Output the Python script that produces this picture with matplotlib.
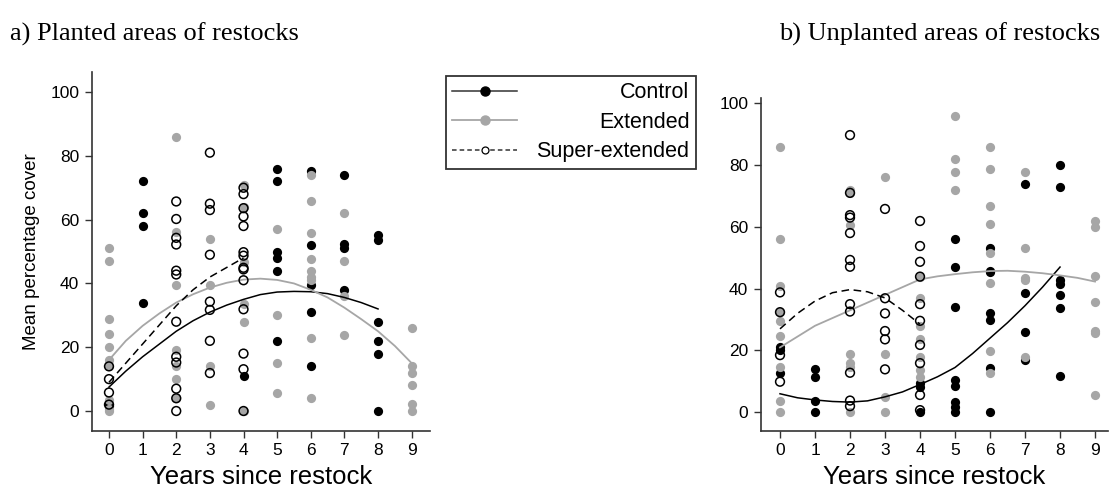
import matplotlib.pyplot as plt
from matplotlib.lines import Line2D

plt.rcParams['font.family'] = ['Liberation Sans', 'DejaVu Sans']

years = list(range(10))
year_ticks = [0, 1, 2, 3, 4, 5, 6, 7, 8, 9]
cover_ticks = [0, 20, 40, 60, 80, 100]

# ---- a) planted areas: raw percentage cover per year (index = year) ----
planted_control = [[2.2, 1.5], [72, 62, 58, 34], [], [], [11],
                   [76, 72, 50, 48, 44, 22], [75.4, 52.2, 39.4, 31, 14],
                   [74, 52.4, 51, 38], [55.3, 53.7, 28, 22, 18, 0], []]
planted_extended = [[51, 47, 29, 24, 20, 16, 14, 3.5, 0.5, 0], [],
                    [86, 56, 39.4, 19, 14, 10, 4], [54, 39.4, 14.2, 2],
                    [71, 64, 46.7, 33.4, 28, 0], [57.2, 30, 15, 5.8],
                    [73.9, 66, 55.8, 47.8, 44, 42, 41, 23, 4],
                    [62, 47, 36, 23.8], [], [26, 14.2, 12, 8.1, 2.2, 0]]
planted_super = [[14, 10, 5.8, 2], [],
                 [65.7, 60.2, 54.3, 52.2, 44, 42.8, 28, 17, 15.2, 7, 4, 0],
                 [81, 65, 63, 49, 34.3, 31.7, 22, 11.9],
                 [70, 68, 63.6, 61, 58, 49.8, 48.7, 44.9, 44.4, 41, 31.9, 18, 13.1, 0],
                 [], [], [], [], []]

# fitted curves (read every half year)
planted_control_fit_x = [0, 0.5, 1, 1.5, 2, 2.5, 3, 3.5, 4, 4.5, 5, 5.5, 6, 6.5, 7, 7.5, 8]
planted_control_fit = [7.5, 12.5, 17, 21, 25, 28.3, 31, 33.2, 35, 36.5, 37.3, 37.5, 37.4, 36.8, 35.6, 34, 32]
planted_extended_fit_x = [0, 0.5, 1, 1.5, 2, 2.5, 3, 3.5, 4, 4.5, 5, 5.5, 6, 6.5, 7, 7.5, 8, 8.5, 9]
planted_extended_fit = [16, 22, 26.7, 30.6, 34, 36.6, 38.7, 40.2, 41.2, 41.5, 41.1, 40, 38, 35.6, 32.4, 28.8, 25, 20.4, 15]
planted_super_fit_x = [0, 0.5, 1, 1.5, 2, 2.5, 3, 3.5, 4]
planted_super_fit = [9, 15, 21, 27, 33, 38, 42, 45, 48]

# ---- b) unplanted areas ----
unplanted_control = [[21, 20, 12.7], [14, 11.5, 3.8, 0], [], [], [9.4, 8.1, 0],
                     [56, 47, 34, 10.5, 8.5, 3.4, 1.8, 0],
                     [53.1, 45.8, 45.5, 32.2, 29.9, 14.2, 0],
                     [73.9, 38.7, 26, 16.9],
                     [79.9, 72.8, 42.8, 41.5, 38, 33.9, 11.7], []]
unplanted_extended = [[86, 56, 41, 32.4, 29.5, 24.8, 14.8, 3.8, 0], [],
                      [72, 71, 60.6, 18.9, 16, 14.8, 0], [76, 18.9, 5, 0],
                      [43.9, 36.9, 27.9, 23.6, 17.8, 13.7, 11.5],
                      [95.9, 81.9, 77.8, 71.8],
                      [86, 78.8, 66.9, 60.8, 51.6, 41.7, 19.9, 12.8],
                      [77.8, 53.1, 43.4, 42.8, 17.8], [],
                      [62, 60, 44.1, 35.8, 26.3, 25.6, 5.7]]
unplanted_super = [[38.8, 32.4, 18.5, 9.9], [],
                   [89.7, 71, 63.8, 63, 58, 49.3, 47.1, 35, 32.6, 12.8, 3.8, 2],
                   [65.8, 36.9, 32, 26.3, 23.6, 13.9],
                   [61.9, 53.8, 48.7, 43.9, 35, 29.6, 21.8, 15.9, 5.6, 0.7],
                   [], [], [], [], []]

unplanted_control_fit_x = [0, 0.5, 1, 1.5, 2, 2.5, 3, 3.5, 4, 4.5, 5, 5.5, 6, 6.5, 7, 7.5, 8]
unplanted_control_fit = [6, 4.7, 4, 3.5, 3.3, 3.7, 5, 6.6, 9, 11.5, 14.5, 19, 24, 29, 34.5, 40.5, 47]
unplanted_extended_fit_x = [0, 0.5, 1, 1.5, 2, 2.5, 3, 3.5, 4, 4.5, 5, 5.5, 6, 6.5, 7, 7.5, 8, 8.5, 9]
unplanted_extended_fit = [21, 24.5, 28, 30.5, 33, 35.5, 38, 40.5, 43, 44, 44.7, 45.3, 45.7, 45.8, 45.5, 45, 44.3, 43.5, 42.3]
unplanted_super_fit_x = [0, 0.5, 1, 1.5, 2, 2.5, 3, 3.5, 4]
unplanted_super_fit = [27, 32, 36, 38.7, 39.7, 39, 37, 33, 28.5]

GREY = '#a6a6a6'


def flatten(per_year):
    xs, ys = [], []
    for yr, vals in zip(years, per_year):
        xs += [yr] * len(vals)
        ys += vals
    return xs, ys


def draw_panel(ax, control, extended, superext, fits):
    (cx, cy), (ex, ey), (sx, sy) = fits
    ax.plot(cx, cy, color='black', lw=1.1, zorder=4)
    ax.plot(ex, ey, color=GREY, lw=1.3, zorder=4)
    ax.plot(sx, sy, color='black', lw=1.1, ls=(0, (5, 3)), zorder=4)

    x, y = flatten(control)
    ax.scatter(x, y, s=44, color='black', lw=0, zorder=2)
    x, y = flatten(extended)
    ax.scatter(x, y, s=44, color=GREY, lw=0, zorder=3)
    x, y = flatten(superext)
    ax.scatter(x, y, s=40, facecolor='none', edgecolor='black', lw=1.1, zorder=5)

    for side in ['top', 'right']:
        ax.spines[side].set_visible(False)
    for side in ['left', 'bottom']:
        ax.spines[side].set_linewidth(1.2)
        ax.spines[side].set_color('#333333')
    ax.set_xticks(year_ticks)
    ax.set_yticks(cover_ticks)
    ax.tick_params(labelsize=12.5, length=5, width=1, color='#333333', pad=4)
    ax.set_xlabel('Years since restock', fontsize=18.5, labelpad=5)


fig = plt.figure(figsize=(11.14, 4.91), dpi=100)

ax1 = fig.add_axes([0.0823, 0.1222, 0.3037, 0.7312])
draw_panel(ax1, planted_control, planted_extended, planted_super,
           [(planted_control_fit_x, planted_control_fit),
            (planted_extended_fit_x, planted_extended_fit),
            (planted_super_fit_x, planted_super_fit)])
ax1.set_xlim(-0.514, 9.545)
ax1.set_ylim(-6.27, 106.3)
ax1.set_ylabel('Mean percentage cover', fontsize=13.5, labelpad=7)

ax2 = fig.add_axes([0.6829, 0.1222, 0.3117, 0.6782])
draw_panel(ax2, unplanted_control, unplanted_extended, unplanted_super,
           [(unplanted_control_fit_x, unplanted_control_fit),
            (unplanted_extended_fit_x, unplanted_extended_fit),
            (unplanted_super_fit_x, unplanted_super_fit)])
ax2.set_xlim(-0.55, 9.37)
ax2.set_ylim(-6.05, 101.7)

fig.text(0.009, 0.93, 'a) Planted areas of restocks', family='Liberation Serif',
         fontsize=19, va='center', ha='left')
fig.text(0.988, 0.93, 'b) Unplanted areas of restocks', family='Liberation Serif',
         fontsize=19, va='center', ha='right')

# legend: frame + handles on the left, labels right-aligned
labels = ['Control', 'Extended', 'Super-extended']
handles = [
    Line2D([], [], color='#333333', lw=1.1, marker='o', markersize=6.5,
           markerfacecolor='black', markeredgecolor='black'),
    Line2D([], [], color=GREY, lw=1.3, marker='o', markersize=6.5,
           markerfacecolor=GREY, markeredgecolor=GREY),
    Line2D([], [], color='#333333', lw=1.1, ls=(0, (3, 2)), marker='o', markersize=5,
           markerfacecolor='white', markeredgecolor='black', markeredgewidth=0.9),
]
leg_x, leg_top, leg_w = 446 / 1114, 1 - 76 / 491, 250 / 1114
common = dict(fontsize=15.5, borderpad=0.3, labelspacing=0.39, borderaxespad=0,
              numpoints=1)
leg1 = fig.legend(handles, ['', '', ''], loc='upper left',
                  bbox_to_anchor=(leg_x, leg_top, leg_w, 0), mode='expand',
                  handlelength=3.0, handletextpad=0, fancybox=False,
                  edgecolor='#333333', framealpha=1, **common)
leg1.get_frame().set_linewidth(1.3)
blank = [Line2D([], [], ls='none') for _ in labels]
fig.legend(blank, labels, loc='upper right', bbox_to_anchor=(leg_x + leg_w, leg_top),
           frameon=False, markerfirst=False, handlelength=0, handletextpad=0,
           **common)

fig.savefig('out.png', dpi=100)
